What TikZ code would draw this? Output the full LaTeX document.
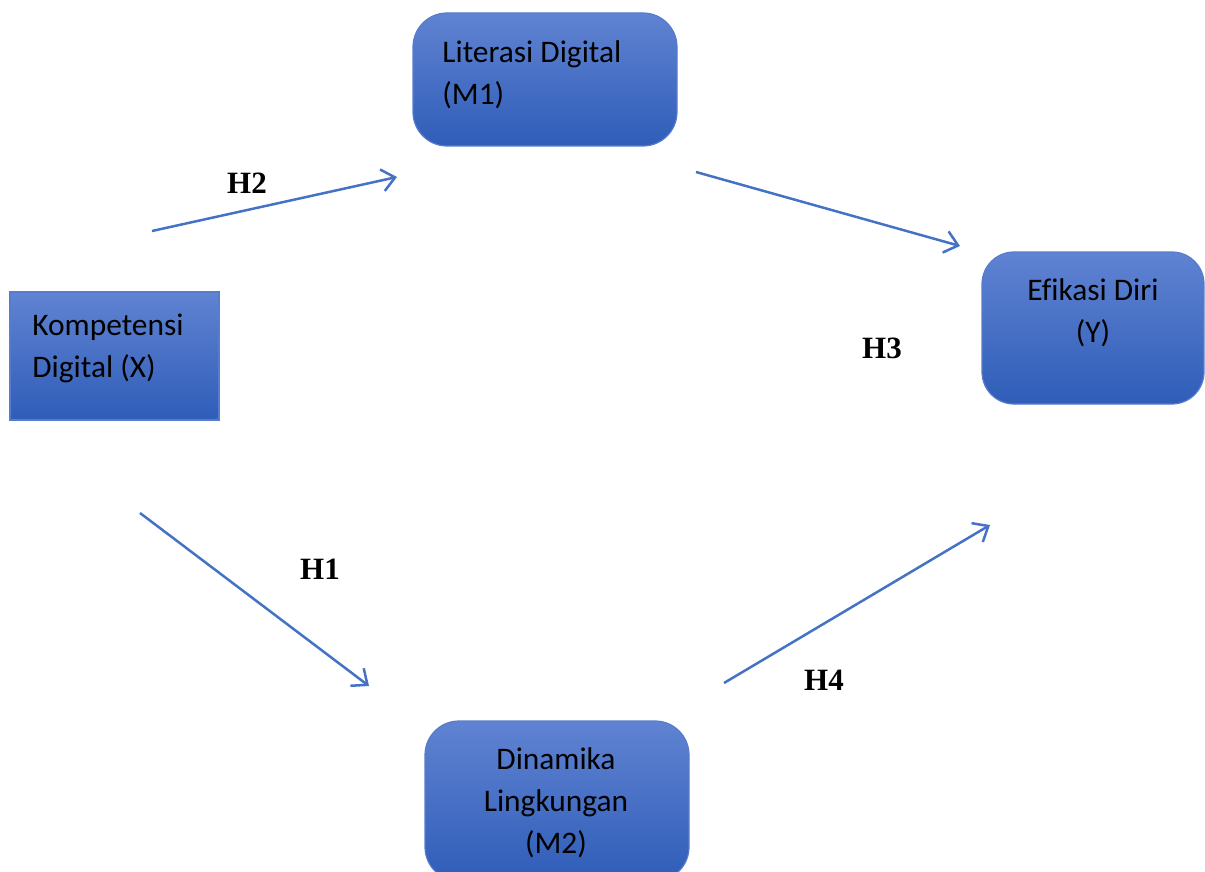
\documentclass[tikz,border=0pt]{standalone}
\usepackage{fontspec}
\setmainfont{Carlito}[Ligatures=NoCommon]
\newfontfamily\labelfont{Liberation Serif}
\usetikzlibrary{arrows.meta}
\definecolor{boxtop}{RGB}{96,131,210}
\definecolor{boxbot}{RGB}{47,93,184}
\definecolor{boxedge}{RGB}{88,124,204}
\definecolor{linkblue}{RGB}{68,114,196}
\tikzset{
  box/.style={draw=boxedge, line width=0.6pt, top color=boxtop, bottom color=boxbot,
    minimum width=#1, inner sep=0pt},
  boxtext/.style={font=\fontsize{15.7pt}{21pt}\selectfont, text=black, inner sep=0pt},
  hyp/.style={font=\labelfont\bfseries\fontsize{15.5pt}{18pt}\selectfont, inner sep=0pt},
  link/.style={draw=linkblue, line width=1.25pt,
    -{Straight Barb[length=6.5pt, width=11pt, line width=1.25pt]}}
}
\begin{document}
\begin{tikzpicture}[x=0.5pt, y=-0.5pt]
\useasboundingbox (0,0) rectangle (1205,872);
\clip (0,0) rectangle (1205,872);
% boxes
\node[box=104.5pt, minimum height=64pt] (X) at (114.5,356) {};
\node[box=132pt, minimum height=66.5pt, rounded corners=17pt] (M1) at (545,79.5) {};
\node[box=111pt, minimum height=76pt, rounded corners=16pt] (Y) at (1093,328) {};
\node[box=132pt, minimum height=80pt, rounded corners=17pt] (M2) at (557,801) {};
% box texts
\node[boxtext, anchor=west, align=left] (Xt) at (32,348) {Kompetensi\\Digital (X)};
\node[boxtext, anchor=west, align=left] (M1t) at (442,75) {Literasi Digital\\(M1)};
\node[boxtext, align=center] (Yt) at (1093,313) {Efikasi Diri\\(Y)};
\node[boxtext, align=center] (M2t) at (556,803) {Dinamika\\Lingkungan\\(M2)};
% connector end points
\coordinate (h2s) at (152,231);
\coordinate (h2e) at (397,177);
\coordinate (h3s) at (696,172);
\coordinate (h3e) at (960,246);
\coordinate (h1s) at (140,513);
\coordinate (h1e) at (369,686);
\coordinate (h4s) at (724,683);
\coordinate (h4e) at (990,525);
\draw[link] (h2s) -- (h2e);
\draw[link] (h3s) -- (h3e);
\draw[link] (h1s) -- (h1e);
\draw[link] (h4s) -- (h4e);
% hypothesis labels
\node[hyp] (H2) at (247,183) {H2};
\node[hyp] (H3) at (882,348) {H3};
\node[hyp] (H1) at (320,569) {H1};
\node[hyp] (H4) at (824,680) {H4};
\end{tikzpicture}
\end{document}
